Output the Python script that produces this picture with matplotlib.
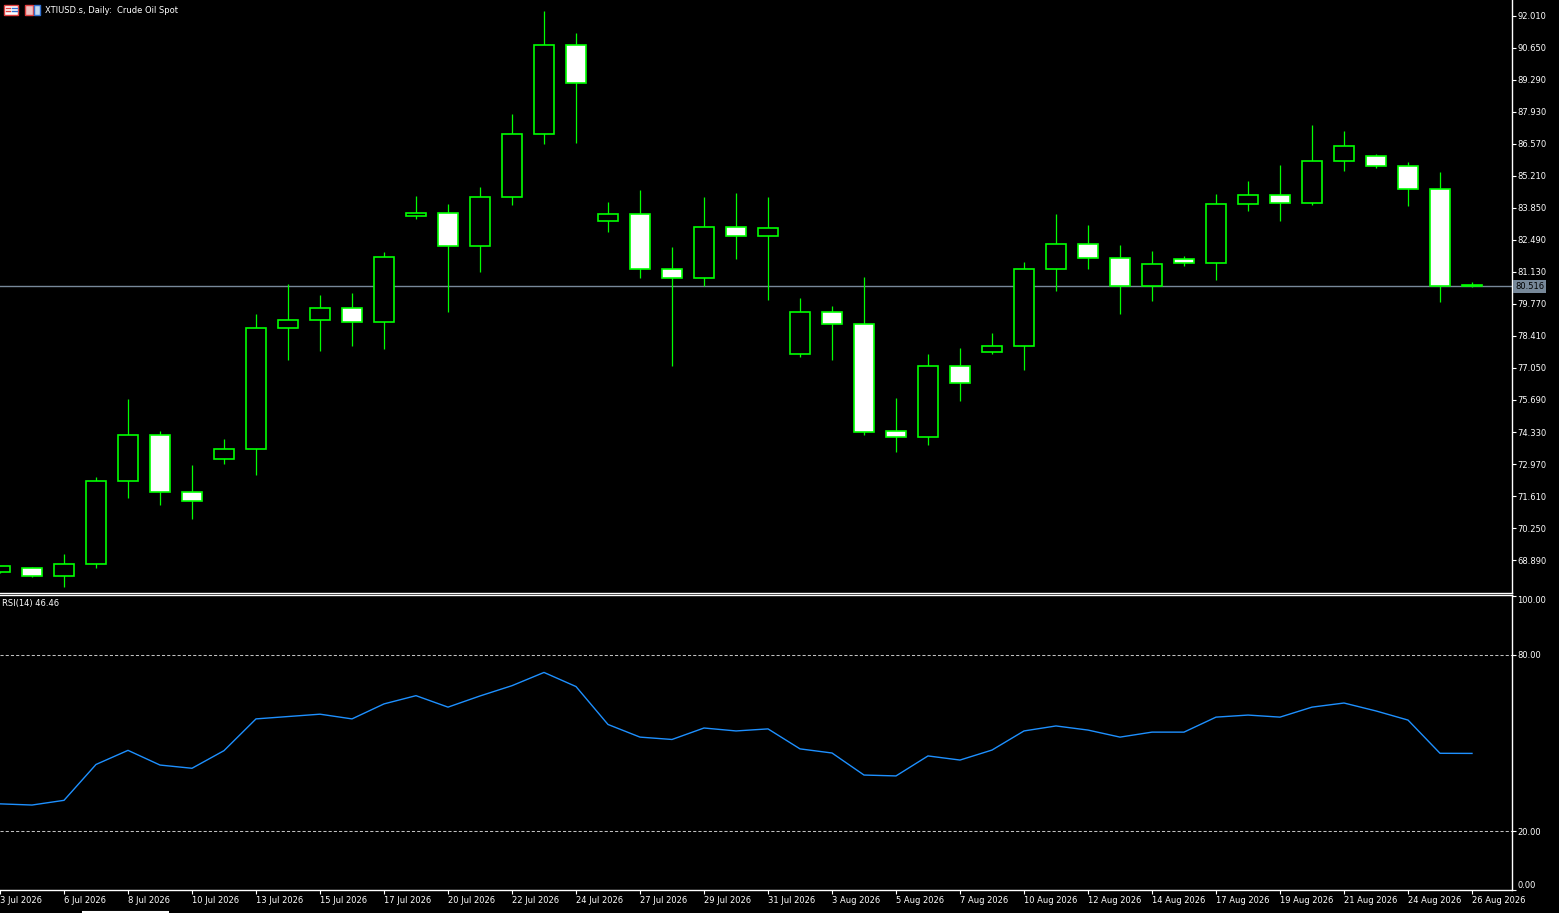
import matplotlib
matplotlib.use("Agg")
import matplotlib.pyplot as plt
from matplotlib.patches import Rectangle
from matplotlib.lines import Line2D

plt.rcParams['font.family'] = ['DejaVu Sans']

# fechas de cada vela (el broker incluye vela de domingo)
fechas = ["3 Jul 2026", "5 Jul 2026", "6 Jul 2026", "7 Jul 2026", "8 Jul 2026",
          "9 Jul 2026", "10 Jul 2026", "12 Jul 2026", "13 Jul 2026", "14 Jul 2026",
          "15 Jul 2026", "16 Jul 2026", "17 Jul 2026", "19 Jul 2026", "20 Jul 2026",
          "21 Jul 2026", "22 Jul 2026", "23 Jul 2026", "24 Jul 2026", "26 Jul 2026",
          "27 Jul 2026", "28 Jul 2026", "29 Jul 2026", "30 Jul 2026", "31 Jul 2026",
          "2 Aug 2026", "3 Aug 2026", "4 Aug 2026", "5 Aug 2026", "6 Aug 2026",
          "7 Aug 2026", "9 Aug 2026", "10 Aug 2026", "11 Aug 2026", "12 Aug 2026",
          "13 Aug 2026", "14 Aug 2026", "16 Aug 2026", "17 Aug 2026", "18 Aug 2026",
          "19 Aug 2026", "20 Aug 2026", "21 Aug 2026", "23 Aug 2026", "24 Aug 2026",
          "25 Aug 2026", "26 Aug 2026"]

apertura = [68.38, 68.55, 68.21, 68.72, 72.24, 74.19, 71.77, 73.17, 73.60, 78.73,
            79.07, 79.58, 78.99, 83.49, 83.61, 82.21, 84.29, 86.97, 90.75, 83.27,
            83.57, 81.24, 80.86, 83.02, 82.64, 77.63, 79.41, 78.90, 74.36, 74.11,
            77.12, 77.71, 77.97, 81.24, 82.30, 81.70, 80.54, 81.66, 81.49, 84.00,
            84.38, 84.04, 85.82, 86.03, 85.61, 84.66, 80.55]
maximo = [68.66, 68.60, 69.15, 72.42, 75.73, 74.37, 72.93, 74.03, 79.34, 80.61,
          80.15, 80.23, 81.97, 84.35, 84.01, 84.73, 87.83, 92.20, 91.27, 84.09,
          84.60, 82.18, 84.31, 84.48, 84.31, 80.02, 79.68, 80.91, 75.77, 77.64,
          77.90, 78.53, 81.55, 83.58, 83.12, 82.27, 82.01, 81.80, 84.43, 84.99,
          85.66, 87.36, 87.11, 86.13, 85.79, 85.37, 80.70]
minimo = [68.35, 68.19, 67.76, 68.57, 71.54, 71.24, 70.65, 72.99, 72.52, 77.40,
          77.78, 77.99, 77.87, 83.38, 79.44, 81.14, 83.98, 86.57, 86.61, 82.83,
          80.88, 77.15, 80.53, 81.69, 79.95, 77.53, 77.40, 74.22, 73.49, 73.79,
          75.66, 77.65, 76.98, 80.33, 81.26, 79.35, 79.90, 81.39, 80.80, 83.71,
          83.30, 83.98, 85.42, 85.55, 83.94, 79.86, 80.50]
cierre = [68.63, 68.21, 68.72, 72.24, 74.19, 71.77, 71.39, 73.60, 78.73, 79.07,
          79.58, 78.99, 81.75, 83.61, 82.21, 84.29, 86.97, 90.75, 89.13, 83.57,
          81.24, 80.86, 83.02, 82.64, 82.98, 79.41, 78.90, 74.34, 74.11, 77.12,
          76.40, 77.97, 81.24, 82.30, 81.70, 80.54, 81.45, 81.49, 84.00, 84.38,
          84.04, 85.82, 86.46, 85.61, 84.66, 80.54, 80.516]

rsi = [29.3, 28.9, 30.5, 42.7, 47.5, 42.5, 41.4, 47.4, 58.2, 59.0,
       59.8, 58.2, 63.3, 66.1, 62.2, 66.0, 69.5, 74.0, 69.2, 56.3,
       52.0, 51.2, 55.1, 54.1, 54.8, 48.0, 46.6, 39.1, 38.8, 45.6,
       44.2, 47.6, 54.1, 55.8, 54.4, 52.0, 53.7, 53.7, 58.8, 59.5,
       58.8, 62.2, 63.6, 60.9, 57.8, 46.5, 46.46]

precio_actual = 80.516
ticks_precio = [68.89, 70.25, 71.61, 72.97, 74.33, 75.69, 77.05, 78.41, 79.77,
                81.13, 82.49, 83.85, 85.21, 86.57, 87.93, 89.29, 90.65, 92.01]
niveles_rsi = [20, 80]

W, H = 1559, 913
VERDE = '#00FF00'
GRIS = '#778899'

fig = plt.figure(figsize=(W / 100, H / 100), dpi=100, facecolor='black')


def caja(px0, py0, px1, py1):
    '''pasa un rectangulo en pixeles (origen arriba a la izq) a fraccion de figura'''
    return [px0 / W, 1 - py1 / H, (px1 - px0) / W, (py1 - py0) / H]


ax1 = fig.add_axes(caja(0, 0, 1512, 593), facecolor='black')
ax2 = fig.add_axes(caja(0, 595, 1512, 890), facecolor='black', sharex=ax1)

n = len(cierre)
ancho = 0.64

# velas
ax1.axhline(precio_actual, color=GRIS, lw=1, zorder=1)
for i in range(n):
    o, c = apertura[i], cierre[i]
    ax1.vlines(i, minimo[i], maximo[i], color=VERDE, lw=0.9, zorder=2)
    relleno = 'white' if c < o else 'black'
    ax1.add_patch(Rectangle((i - ancho / 2, min(o, c)), ancho, max(abs(c - o), 0.01),
                            facecolor=relleno, edgecolor=VERDE, lw=1.2, zorder=3))

ax1.set_xlim(0, 47.25)
ax1.set_ylim(67.497, 92.668)
ax1.set_yticks(ticks_precio)
ax1.set_yticklabels([f"{t:.3f}" for t in ticks_precio])
ax1.yaxis.tick_right()
ax1.tick_params(axis='y', colors='white', length=3, width=0.8, labelsize=6, pad=1)
ax1.tick_params(axis='x', bottom=False, labelbottom=False)
for lado in ['left', 'top']:
    ax1.spines[lado].set_visible(False)
for lado in ['right', 'bottom']:
    ax1.spines[lado].set_color('white')
    ax1.spines[lado].set_linewidth(1)

# etiqueta del precio actual
ax1.text(1.002, precio_actual, f"{precio_actual:.3f}", transform=ax1.get_yaxis_transform(),
         fontsize=6, color='black', va='center', ha='left',
         bbox=dict(boxstyle='square,pad=0.25', facecolor=GRIS, edgecolor='none'))

# panel RSI
ax2.plot(range(n), rsi, color='#1E90FF', lw=1)
for nivel in niveles_rsi:
    ax2.axhline(nivel, color='#C0C0C0', lw=0.75, linestyle=(0, (3, 2)))
ax2.set_ylim(0, 100.34)
ax2.set_yticks([0, 20, 80, 100])
ax2.set_yticklabels(["0.00", "20.00", "80.00", "100.00"])
ax2.yaxis.tick_right()
ax2.tick_params(axis='y', colors='white', length=3, width=0.8, labelsize=6, pad=1)
etiquetas = ax2.get_yticklabels()
etiquetas[0].set_va('bottom')
etiquetas[-1].set_va('top')

pos_x = list(range(0, n, 2))
ax2.set_xticks(pos_x)
ax2.set_xticklabels([fechas[i] for i in pos_x], ha='left')
ax2.tick_params(axis='x', colors='white', length=3, width=0.8, labelsize=6, pad=1)
ax2.spines['left'].set_visible(False)
for lado in ['right', 'bottom', 'top']:
    ax2.spines[lado].set_color('white')
    ax2.spines[lado].set_linewidth(1)

ax2.text(2 / 1512, 1 - 8 / 295, f"RSI(14) {rsi[-1]:.2f}", transform=ax2.transAxes,
         fontsize=6, color='white', va='center', ha='left')

# titulo con los iconitos de la ventana
fig.text(45 / W, 1 - 10.5 / H, "XTIUSD.s, Daily:  Crude Oil Spot", fontsize=6,
         color='white', va='center', ha='left')
fig.patches.append(Rectangle(caja(4, 5, 18, 15)[:2], caja(4, 5, 18, 15)[2], caja(4, 5, 18, 15)[3],
                             transform=fig.transFigure, facecolor='white', edgecolor='#E04040', lw=1))
for yy in [8, 11]:
    fig.lines.append(Line2D([6 / W, 10 / W], [1 - yy / H] * 2, transform=fig.transFigure,
                            color='#E04040', lw=1))
    fig.lines.append(Line2D([12 / W, 17 / W], [1 - yy / H] * 2, transform=fig.transFigure,
                            color='#3070D0', lw=1))
fig.patches.append(Rectangle(caja(25, 5, 33, 15)[:2], caja(25, 5, 33, 15)[2], caja(25, 5, 33, 15)[3],
                             transform=fig.transFigure, facecolor='#F0C0C0', edgecolor='#E04040', lw=1))
fig.patches.append(Rectangle(caja(34, 5, 40, 15)[:2], caja(34, 5, 40, 15)[2], caja(34, 5, 40, 15)[3],
                             transform=fig.transFigure, facecolor='#C0D8F0', edgecolor='#3070D0', lw=1))

# barrita blanca abajo
fig.lines.append(Line2D([83 / W, 168 / W], [1 - 912 / H] * 2, transform=fig.transFigure,
                        color='white', lw=1.5))

fig.savefig('out.png', dpi=100, facecolor='black')
